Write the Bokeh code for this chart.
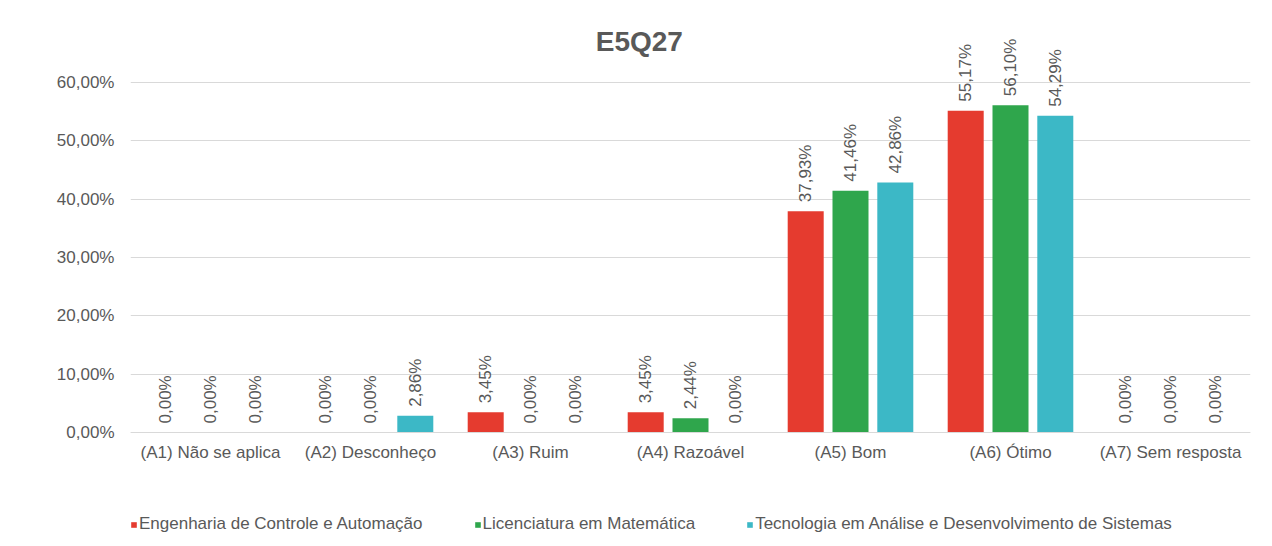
from math import pi
from bokeh.plotting import figure
from bokeh.models import (ColumnDataSource, FactorRange, Range1d, FixedTicker,
                          CustomJSTickFormatter, Legend, LegendItem)
from bokeh.transform import dodge
from bokeh.core.properties import value
from bokeh.embed import file_html
from bokeh.resources import INLINE

categories = ["(A1) Não se aplica", "(A2) Desconheço", "(A3) Ruim", "(A4) Razoável",
              "(A5) Bom", "(A6) Ótimo", "(A7) Sem resposta"]
series_names = ["Engenharia de Controle e Automação", "Licenciatura em Matemática",
                "Tecnologia em Análise e Desenvolvimento de Sistemas"]
eng = [0.0, 0.0, 3.45, 3.45, 37.93, 55.17, 0.0]
lic = [0.0, 0.0, 0.0, 2.44, 41.46, 56.10, 0.0]
tec = [0.0, 2.86, 0.0, 0.0, 42.86, 54.29, 0.0]
y_ticks = [0, 10, 20, 30, 40, 50, 60]
title_text = "E5Q27"

colors = ["#E53B2F", "#2FA64C", "#3CB8C6"]
TEXT = "#595959"
FONT = "Liberation Sans"

p = figure(width=1272, height=546, output_backend="svg", toolbar_location=None,
           x_range=FactorRange(*categories, range_padding=0.0),
           y_range=Range1d(-19.2, 72.34),
           min_border_left=130, min_border_right=22, min_border_top=10,
           min_border_bottom=2)
p.outline_line_color = None
p.background_fill_color = "white"
p.border_fill_color = "white"

p.xgrid.grid_line_color = None
p.ygrid.grid_line_color = "#D9D9D9"
p.ygrid.grid_line_width = 1
p.ygrid.ticker = FixedTicker(ticks=y_ticks)

p.yaxis.ticker = FixedTicker(ticks=y_ticks)
p.yaxis.formatter = CustomJSTickFormatter(code="return tick.toFixed(2).replace('.', ',') + '%';")
p.yaxis.axis_line_color = None
p.yaxis.major_tick_line_color = None
p.yaxis.minor_tick_line_color = None
p.yaxis.major_label_text_font = FONT
p.yaxis.major_label_text_font_size = "17px"
p.yaxis.major_label_text_color = TEXT
p.yaxis.major_label_standoff = 10

p.xaxis.fixed_location = 0
p.xaxis.axis_line_color = "#D9D9D9"
p.xaxis.major_tick_line_color = None
p.xaxis.minor_tick_line_color = None
p.xaxis.major_label_text_font = FONT
p.xaxis.major_label_text_font_size = "17px"
p.xaxis.major_label_text_color = TEXT
p.xaxis.major_label_standoff = 5

offsets = [-0.28, 0.0, 0.28]
source = ColumnDataSource(dict(cat=categories, eng=eng, lic=lic, tec=tec))
items = []
for key, off, col, name in zip(["eng", "lic", "tec"], offsets, colors, series_names):
    r = p.vbar(x=dodge("cat", off, range=p.x_range), top=key, width=0.225,
               source=source, fill_color=col, line_color=None)
    items.append(LegendItem(label=name, renderers=[r]))
    lbl_src = ColumnDataSource(dict(cat=categories, y=source.data[key],
                                    txt=[("%.2f" % v).replace(".", ",") + "%" for v in source.data[key]]))
    p.text(x=dodge("cat", off, range=p.x_range), y="y", text="txt", source=lbl_src,
           angle=pi / 2, text_align="left", text_baseline="middle",
           y_offset=-9, text_font=value(FONT), text_font_size="17px", text_color=TEXT)

title_src = ColumnDataSource(dict(cat=[categories[3]], y=[67.0], txt=[title_text]))
p.text(x=dodge("cat", -0.32, range=p.x_range), y="y", text="txt", source=title_src,
       text_font=value(FONT), text_font_size="28px", text_font_style="bold",
       text_color=TEXT, text_align="center", text_baseline="middle")

legend = Legend(items=items, orientation="horizontal", location=(0, 10),
                label_text_font=FONT, label_text_font_size="17px",
                label_text_color=TEXT, glyph_width=7, glyph_height=7,
                label_standoff=2, spacing=51, border_line_color=None,
                background_fill_alpha=0, margin=0, padding=0)
p.add_layout(legend, "center")

open("out.html", "w").write(file_html(p, INLINE))
